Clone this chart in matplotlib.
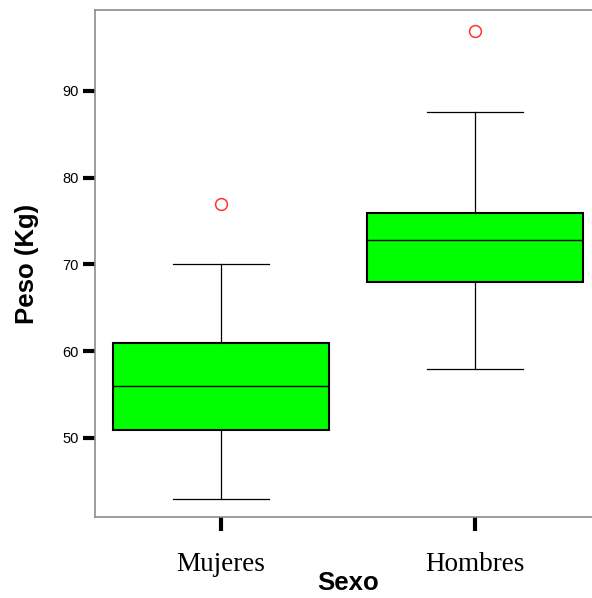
import matplotlib.pyplot as plt

# Weight (kg) summary by sex
groups = ['Mujeres', 'Hombres']
whislo = [43.0, 57.9]
q1 = [50.9, 68.0]
med = [56.0, 72.8]
q3 = [60.9, 75.9]
whishi = [70.0, 87.5]
outliers = [[76.9], [96.9]]

stats = []
for i, g in enumerate(groups):
    stats.append({'label': g, 'whislo': whislo[i], 'q1': q1[i], 'med': med[i],
                  'q3': q3[i], 'whishi': whishi[i], 'fliers': outliers[i]})

fig = plt.figure(figsize=(5.92, 5.98), dpi=100)
ax = fig.add_axes([95 / 592, 1 - 517 / 598, 506 / 592, 507 / 598])

ax.bxp(stats, positions=[1, 2], widths=0.85, capwidths=0.38, patch_artist=True,
       boxprops=dict(facecolor='#00ff00', edgecolor='black', linewidth=1.5),
       medianprops=dict(color='black', linewidth=1),
       whiskerprops=dict(color='black', linewidth=0.9),
       capprops=dict(color='black', linewidth=0.9),
       flierprops=dict(marker='o', markerfacecolor='none', markeredgecolor='#ff3333',
                       markersize=8.5, markeredgewidth=1.1))

ax.set_xlim(0.504, 2.496)
ax.set_ylim(40.9, 99.3)
ax.set_yticks([50, 60, 70, 80, 90])

for side in ['left', 'bottom', 'top', 'right']:
    ax.spines[side].set_color('#8c8c8c')
    ax.spines[side].set_linewidth(1.2)

ax.tick_params(axis='y', direction='out', length=9, width=3, color='black',
               labelsize=10.5, pad=3)
ax.tick_params(axis='x', direction='out', length=10, width=3, color='black',
               pad=15)
for lbl in ax.get_xticklabels():
    lbl.set_fontfamily('Liberation Serif')
    lbl.set_fontsize(19.5)
for lbl in ax.get_yticklabels():
    lbl.set_fontfamily('Liberation Sans')

ax.set_ylabel('Peso (Kg)', fontsize=18.5, fontweight='bold', family='Liberation Sans',
              va='center')
ax.yaxis.set_label_coords(-0.134, 0.5)
ax.set_xlabel('Sexo', fontsize=18.5, fontweight='bold', family='Liberation Sans',
              va='center')
ax.xaxis.set_label_coords(0.5, -0.131)

fig.savefig('out.png', dpi=100)
